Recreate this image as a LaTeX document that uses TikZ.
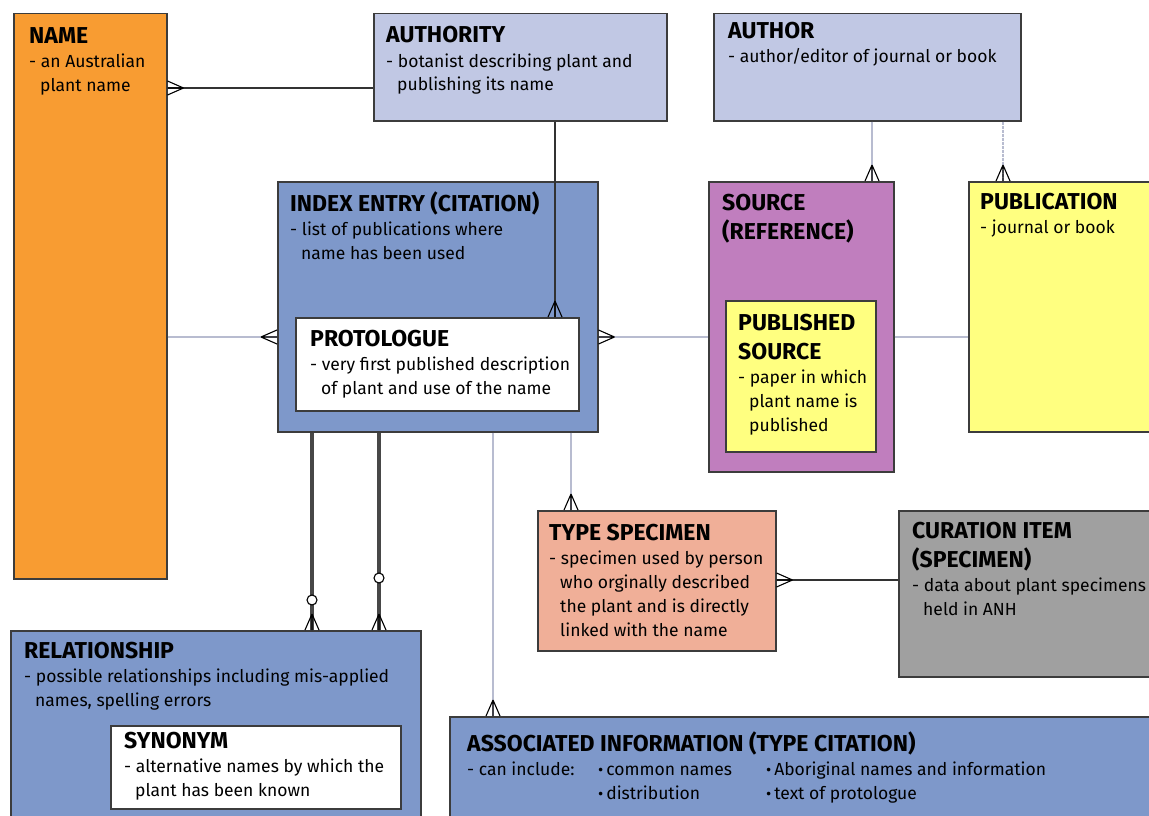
\documentclass[tikz,border=0pt]{standalone}
\usepackage{fontspec}
\setmainfont{Fira Sans}
\definecolor{orangeN}{RGB}{248,156,50}
\definecolor{lav}{RGB}{193,200,228}
\definecolor{blueI}{RGB}{126,152,202}
\definecolor{purp}{RGB}{192,126,190}
\definecolor{yel}{RGB}{255,255,128}
\definecolor{salm}{RGB}{240,175,152}
\definecolor{grayC}{RGB}{160,160,160}
\definecolor{boxline}{RGB}{60,60,60}
\definecolor{lgline}{RGB}{184,188,208}
\definecolor{dkline}{RGB}{50,50,50}
\newcommand\bhead[1]{{\fontsize{23}{24}\selectfont\bfseries #1}}
\newcommand\ind{\hspace*{11pt}}
\newcommand\bul{{\fontsize{16}{16}\selectfont\textbullet}\,}
\begin{document}
\begin{tikzpicture}[x=1pt,y=-1pt,
  box/.style={draw=boxline,line width=1.5pt,inner sep=0,anchor=north west},
  txt/.style={anchor=base west,inner sep=0,align=left,font=\fontsize{17.5}{24}\selectfont},
  lgconn/.style={draw=lgline,line width=2pt},
  dkconn/.style={draw=dkline,line width=1.2pt},
  thconn/.style={draw=dkline!90,line width=3.5pt},
  crowline/.style={draw=black,line width=1.1pt},
  crow/.pic={\draw[crowline] (16,0) -- (0,7) (16,0) -- (0,-7) (16,0) -- (0,0);}
]
\useasboundingbox (0,0) rectangle (1149,816);
\fill[white] (0,0) rectangle (1149,816);
\clip (0,0) rectangle (1149,816);

% boxes
\node[box,fill=orangeN,minimum width=153,minimum height=565] (name) at (13,13) {};
\node[box,fill=lav,minimum width=293,minimum height=107] (authority) at (373,13) {};
\node[box,fill=lav,minimum width=307,minimum height=107] (author) at (713,13) {};
\node[box,fill=blueI,minimum width=320,minimum height=250] (index) at (277,181) {};
\node[box,fill=white,minimum width=283,minimum height=93] (proto) at (295,317) {};
\node[box,fill=purp,minimum width=185,minimum height=290] (source) at (708,181) {};
\node[box,fill=yel,minimum width=150,minimum height=151] (pubsrc) at (725,300) {};
\node[box,fill=yel,minimum width=220,minimum height=250] (publication) at (968,181) {};
\node[box,fill=salm,minimum width=238,minimum height=140] (type) at (537,510) {};
\node[box,fill=grayC,minimum width=280,minimum height=166] (curation) at (898,510) {};
\node[box,fill=blueI,minimum width=410,minimum height=230] (rel) at (10,630) {};
\node[box,fill=white,minimum width=290,minimum height=83] (syn) at (110,725) {};
\node[box,fill=blueI,minimum width=760,minimum height=150] (assoc) at (449,716) {};

% texts (anchored at baseline of last line)
\node[txt] (nameT) at (29,92) {\bhead{NAME}\\- an Australian\\\ind plant name};
\node[txt] (authorityT) at (386,91) {\bhead{AUTHORITY}\\- botanist describing plant and\\\ind publishing its name};
\node[txt] (authorT) at (728,63) {\bhead{AUTHOR}\\- author/editor of journal or book};
\node[txt] (indexT) at (290,259) {\bhead{INDEX ENTRY (CITATION)}\\- list of publications where\\\ind name has been used};
\node[txt] (protoT) at (310,394) {\bhead{PROTOLOGUE}\\- very first published description\\\ind of plant and use of the name};
\node[txt] (sourceT) at (722,239) {\bhead{SOURCE}\\[5pt]\bhead{(REFERENCE)}};
\node[txt] (pubsrcT) at (738,431) {\bhead{PUBLISHED}\\[5pt]\bhead{SOURCE}\\- paper in which\\\ind plant name is\\\ind published};
\node[txt] (publicationT) at (980,233) {\bhead{PUBLICATION}\\- journal or book};
\node[txt] (typeT) at (549,636) {\bhead{TYPE SPECIMEN}\\- specimen used by person\\\ind who orginally described\\\ind the plant and is directly\\\ind linked with the name};
\node[txt] (curationT) at (912,615) {\bhead{CURATION ITEM}\\[5pt]\bhead{(SPECIMEN)}\\- data about plant specimens\\\ind held in ANH};
\node[txt] (relT) at (24,706) {\bhead{RELATIONSHIP}\\- possible relationships including mis-applied\\\ind names, spelling errors};
\node[txt] (synT) at (124,796) {\bhead{SYNONYM}\\- alternative names by which the\\\ind plant has been known};
\node[txt] (assocT) at (467,775) {\bhead{ASSOCIATED INFORMATION (TYPE CITATION)}\\- can include:};
\node[txt] (assocA) at (598,799) {\bul common names\\\bul distribution};
\node[txt] (assocB) at (766,799) {\bul Aboriginal names and information\\\bul text of protologue};

% connectors
\draw[dkconn] (name.east |- 0,88) -- (authority.west |- 0,88);
\pic at (name.east |- 0,88) {crow};

\draw[lgconn] (name.east |- 0,337) -- (index.west |- 0,337);
\pic[rotate=180] at (index.west |- 0,337) {crow};

\draw[dkconn] (555,0 |- authority.south) -- (555,0 |- proto.north);
\pic[rotate=90] at (555,0 |- proto.north) {crow};

\draw[lgconn] (index.east |- 0,337) -- (source.west |- 0,337);
\pic at (index.east |- 0,337) {crow};

\draw[lgconn] (source.east |- 0,337) -- (publication.west |- 0,337);

\draw[lgconn] (872,0 |- author.south) -- (872,0 |- source.north);
\pic[rotate=90] at (872,0 |- source.north) {crow};

\draw[lgconn,dashed,dash pattern=on 3pt off 1pt] (1003,0 |- author.south) -- (1003,0 |- publication.north);
\pic[rotate=90] at (1003,0 |- publication.north) {crow};

\draw[lgconn] (571,0 |- index.south) -- (571,0 |- type.north);
\pic[rotate=90] at (571,0 |- type.north) {crow};

\draw[lgconn] (493,0 |- index.south) -- (493,0 |- assoc.north);
\pic[rotate=90] at (493,0 |- assoc.north) {crow};

\draw[thconn] (312,0 |- index.south) -- (312,0 |- rel.north);
\pic[rotate=90] at (312,0 |- rel.north) {crow};
\draw[crowline,fill=white] (312,600) circle (5);
\draw[thconn] (379,0 |- index.south) -- (379,0 |- rel.north);
\pic[rotate=90] at (379,0 |- rel.north) {crow};
\draw[crowline,fill=white] (379,578) circle (5);

\draw[dkconn] (type.east |- 0,580) -- (curation.west |- 0,580);
\pic at (type.east |- 0,580) {crow};
\end{tikzpicture}
\end{document}
